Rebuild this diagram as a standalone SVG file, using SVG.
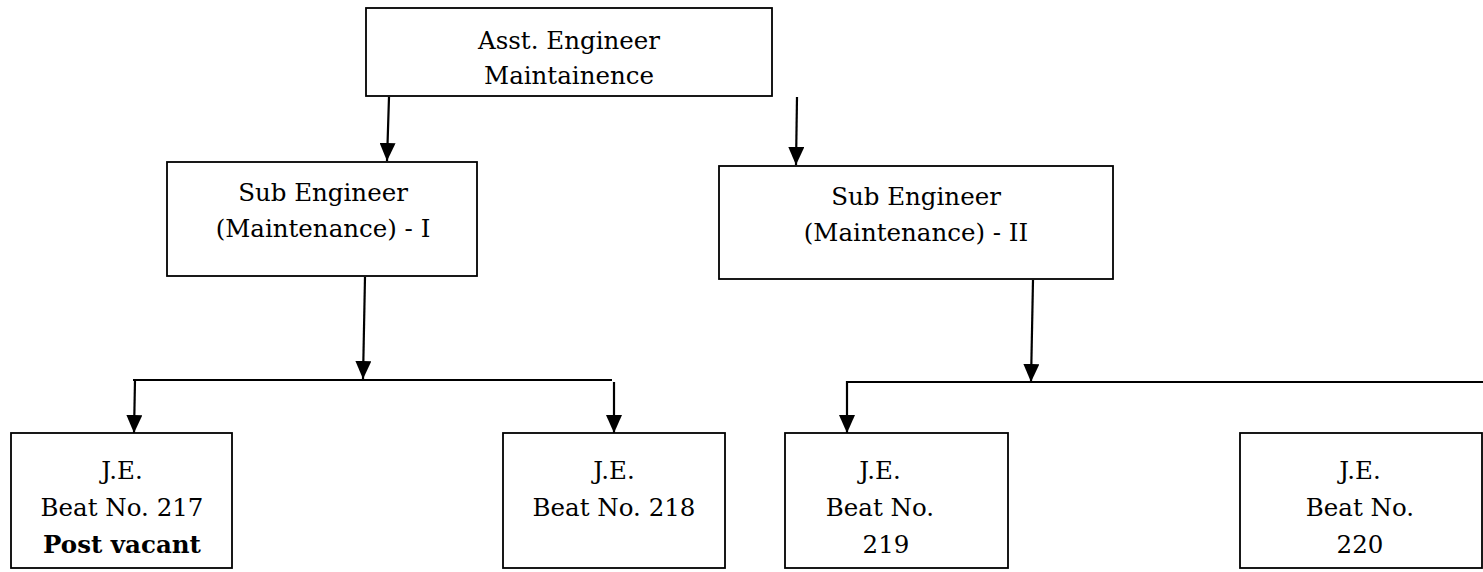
<svg xmlns="http://www.w3.org/2000/svg" width="1483" height="572" viewBox="0 0 1483 572">
<defs>
<style>
.box{fill:#fff;stroke:#000;stroke-width:1.8}
.t{font-family:"DejaVu Serif","Liberation Serif",serif;font-size:24.5px;fill:#000;text-anchor:middle}
.b{font-weight:bold}
.c{stroke:#000;stroke-width:2.2;fill:none}
</style>
<marker id="ad" markerUnits="userSpaceOnUse" markerWidth="18" markerHeight="16" viewBox="0 0 18 16" refX="18" refY="8" orient="auto">
<path d="M0,0 L18,8 L0,16 Z" fill="#000"/>
</marker>
</defs>
<rect width="1483" height="572" fill="#fff"/>
<g id="connectors">
<line class="c" x1="389" y1="97" x2="387" y2="161" marker-end="url(#ad)"/>
<line class="c" x1="797" y1="97" x2="796" y2="165" marker-end="url(#ad)"/>
<line class="c" x1="365" y1="277" x2="363" y2="379" marker-end="url(#ad)"/>
<line class="c" x1="133" y1="380" x2="612" y2="380"/>
<line class="c" x1="135" y1="380" x2="134" y2="433" marker-end="url(#ad)"/>
<line class="c" x1="614" y1="382" x2="614" y2="433" marker-end="url(#ad)"/>
<line class="c" x1="1033" y1="280" x2="1031" y2="382" marker-end="url(#ad)"/>
<polyline class="c" points="1483,382 847,382 847,433" marker-end="url(#ad)"/>
</g>
<g id="n-ae">
<rect class="box" x="366" y="8" width="406" height="88"/>
<text class="t" x="569" y="49">Asst. Engineer</text>
<text class="t" x="569" y="84">Maintainence</text>
</g>
<g id="n-se1">
<rect class="box" x="167" y="162" width="310" height="114"/>
<text class="t" x="323" y="201">Sub Engineer</text>
<text class="t" x="323" y="237">(Maintenance) - I</text>
</g>
<g id="n-se2">
<rect class="box" x="719" y="166" width="394" height="113"/>
<text class="t" x="916" y="205">Sub Engineer</text>
<text class="t" x="916" y="241">(Maintenance) - II</text>
</g>
<g id="n-je217">
<rect class="box" x="11" y="433" width="221" height="135"/>
<text class="t" x="122" y="479">J.E.</text>
<text class="t" x="122" y="516">Beat No. 217</text>
<text class="t b" x="122" y="553">Post vacant</text>
</g>
<g id="n-je218">
<rect class="box" x="503" y="433" width="222" height="135"/>
<text class="t" x="614" y="479">J.E.</text>
<text class="t" x="614" y="516">Beat No. 218</text>
</g>
<g id="n-je219">
<rect class="box" x="785" y="433" width="223" height="135"/>
<text class="t" x="880" y="479">J.E.</text>
<text class="t" x="880" y="516">Beat No.</text>
<text class="t" x="886" y="553">219</text>
</g>
<g id="n-je220">
<rect class="box" x="1240" y="433" width="242" height="135"/>
<text class="t" x="1360" y="479">J.E.</text>
<text class="t" x="1360" y="516">Beat No.</text>
<text class="t" x="1360" y="553">220</text>
</g>
</svg>
